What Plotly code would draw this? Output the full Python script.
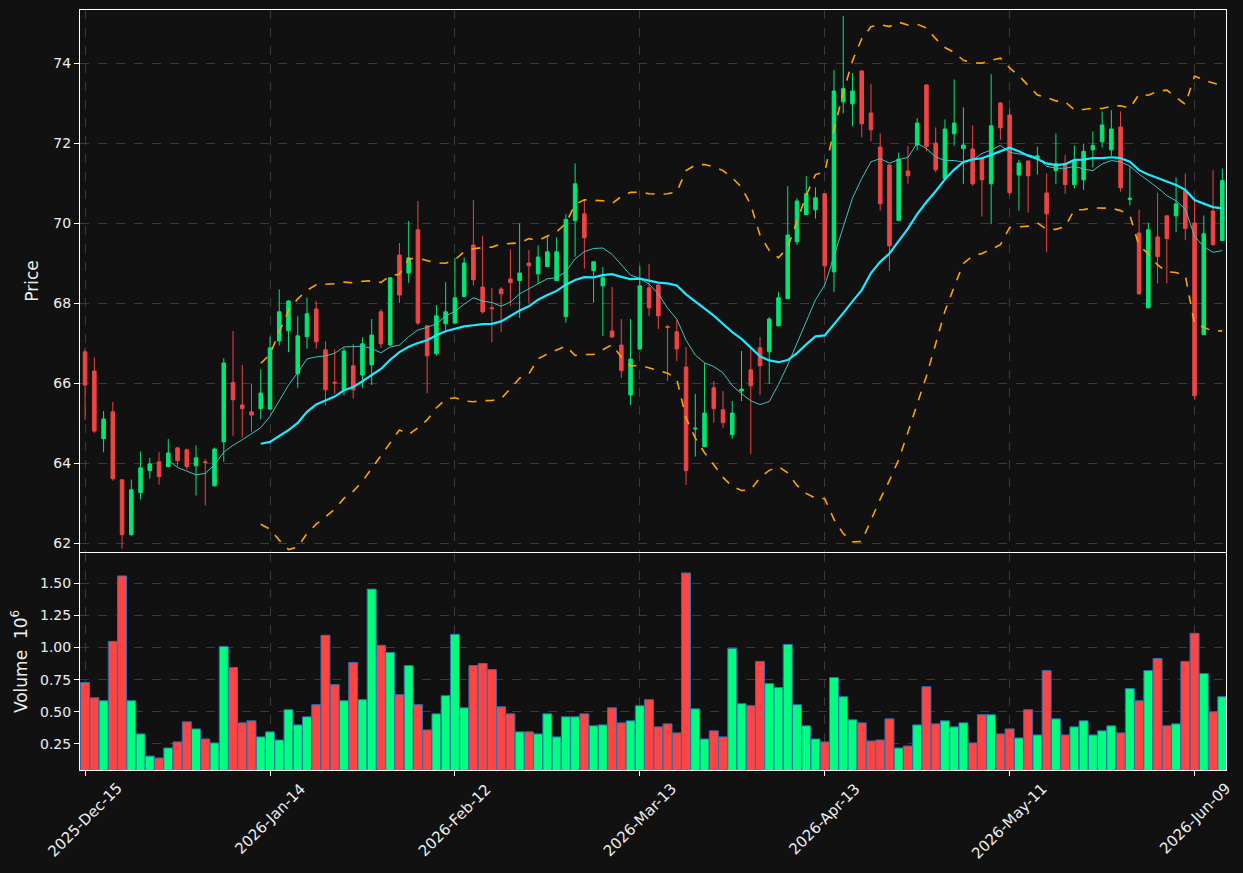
import pandas as pd
import plotly.graph_objects as go

# ---------------- data ----------------
tick_labels = ["2025-Dec-15", "2026-Jan-14", "2026-Feb-12", "2026-Mar-13",
               "2026-Apr-13", "2026-May-11", "2026-Jun-09"]
tick_index = [0, 20, 40, 60, 80, 100, 120]

opens = [66.78, 66.30, 64.61, 65.28, 63.58, 62.21, 63.26, 63.81, 64.03, 63.91,
         64.38, 64.33, 63.93, 64.03, 63.43, 64.53, 66.01, 65.45, 65.28, 65.36,
         65.35, 67.05, 67.31, 66.23, 67.16, 67.85, 66.83, 66.02, 65.83, 66.43,
         66.20, 66.45, 67.78, 66.95, 69.20, 68.75, 69.83, 67.43, 66.73, 67.48,
         67.50, 68.16, 69.45, 68.40, 67.88, 68.35, 68.60, 68.56, 69.00, 68.73,
         68.91, 68.56, 67.66, 70.06, 70.23, 68.81, 68.43, 67.30, 66.95, 65.70,
         66.85, 68.38, 68.45, 67.41, 67.28, 66.40, 64.85, 64.41, 65.88, 65.33,
         64.71, 65.80, 66.33, 66.88, 66.78, 67.43, 68.11, 69.53, 70.21, 70.33,
         70.73, 68.78, 73.03, 72.98, 73.80, 72.75, 71.90, 71.45, 70.06, 71.30,
         71.95, 73.45, 72.00, 71.11, 72.23, 71.86, 71.85, 71.63, 70.98, 73.00,
         72.70, 71.20, 71.55, 71.61, 70.75, 71.31, 71.48, 70.96, 71.08, 71.83,
         72.03, 71.83, 72.40, 70.59, 69.75, 67.88, 69.65, 70.18, 70.18, 70.80,
         70.00, 67.21, 70.30, 69.56]
highs = [66.87, 66.64, 65.30, 65.53, 63.60, 63.59, 64.29, 64.13, 64.27, 64.60,
         64.40, 64.36, 64.44, 64.10, 64.39, 66.62, 67.30, 66.45, 65.98, 66.34,
         67.16, 68.34, 68.07, 67.67, 68.14, 68.05, 67.04, 66.84, 66.88, 66.98,
         67.14, 67.60, 67.85, 68.65, 69.50, 70.05, 70.55, 67.45, 67.95, 68.52,
         69.13, 69.14, 70.57, 69.68, 68.38, 68.40, 69.34, 69.99, 69.32, 69.44,
         69.67, 69.64, 70.22, 71.49, 70.57, 69.04, 68.90, 68.40, 67.60, 67.60,
         68.93, 68.98, 68.47, 67.45, 67.58, 66.90, 65.73, 66.50, 66.05, 65.80,
         65.55, 66.80, 66.85, 67.15, 67.65, 68.28, 70.92, 70.62, 71.17, 70.89,
         70.75, 73.82, 75.18, 73.75, 73.82, 73.48, 72.24, 71.47, 71.76, 71.92,
         72.62, 73.47, 72.39, 72.59, 73.59, 72.89, 72.44, 71.64, 73.72, 73.02,
         72.86, 71.58, 71.56, 71.91, 71.24, 72.24, 71.71, 71.94, 71.99, 72.29,
         72.79, 72.82, 72.79, 71.43, 70.33, 70.01, 70.76, 70.19, 71.14, 71.24,
         70.56, 70.19, 71.32, 71.36]
lows = [65.07, 64.75, 64.27, 63.56, 61.86, 62.18, 63.09, 63.61, 63.46, 63.90,
        63.91, 63.84, 63.19, 62.94, 63.42, 64.03, 64.68, 64.64, 64.78, 65.09,
        65.33, 66.94, 66.77, 65.88, 66.86, 66.86, 65.44, 65.73, 65.69, 65.61,
        65.88, 65.95, 66.88, 66.93, 68.00, 68.51, 67.45, 65.74, 66.68, 67.33,
        67.48, 68.15, 68.43, 67.73, 67.02, 67.27, 67.93, 67.63, 67.98, 68.49,
        68.90, 68.55, 67.51, 69.16, 68.86, 68.01, 67.18, 67.13, 66.13, 65.45,
        66.84, 67.68, 67.35, 66.05, 66.55, 63.45, 64.16, 64.40, 65.01, 64.88,
        64.61, 65.55, 64.22, 65.70, 65.98, 67.42, 68.10, 69.45, 70.20, 70.11,
        68.58, 68.27, 72.74, 72.42, 72.14, 72.04, 70.31, 68.80, 70.05, 70.98,
        71.82, 71.79, 71.26, 71.10, 71.93, 70.98, 70.93, 70.16, 69.97, 72.08,
        70.69, 70.31, 70.26, 71.21, 69.28, 70.97, 70.73, 70.86, 70.83, 71.39,
        71.89, 71.68, 70.78, 70.44, 68.21, 67.87, 68.49, 68.49, 69.77, 69.57,
        65.58, 67.20, 69.43, 69.55]
closes = [65.95, 64.80, 65.10, 63.61, 62.21, 63.33, 63.88, 63.98, 63.66, 64.25,
          64.06, 63.91, 64.13, 64.01, 64.35, 66.50, 65.58, 65.36, 65.20, 65.75,
          66.88, 67.78, 68.05, 67.18, 67.73, 67.03, 65.83, 66.00, 66.80, 65.83,
          66.98, 67.20, 66.98, 68.63, 68.20, 69.13, 67.50, 66.68, 67.68, 67.78,
          68.13, 69.00, 68.58, 67.78, 67.86, 68.23, 68.51, 68.75, 68.93, 69.15,
          69.28, 69.28, 70.09, 70.98, 69.63, 69.03, 68.63, 67.15, 66.31, 66.60,
          68.43, 67.88, 67.68, 67.39, 66.85, 63.81, 64.87, 65.25, 65.36, 65.01,
          65.25, 65.85, 65.93, 66.43, 67.60, 68.13, 69.70, 70.55, 70.73, 70.63,
          68.93, 73.30, 73.36, 73.30, 72.48, 72.33, 70.48, 69.43, 71.60, 71.18,
          72.50, 71.92, 71.33, 72.35, 72.50, 71.95, 70.98, 71.08, 72.43, 72.38,
          70.76, 71.50, 71.18, 71.68, 70.23, 71.48, 70.96, 71.55, 71.79, 71.94,
          72.45, 72.35, 70.88, 70.62, 68.23, 69.83, 69.16, 69.61, 70.48, 69.86,
          65.68, 69.73, 69.46, 71.06]
volumes_m = [0.727, 0.609, 0.586, 1.047, 1.555, 0.586, 0.328, 0.156, 0.141, 0.219,
             0.266, 0.422, 0.367, 0.289, 0.258, 1.008, 0.844, 0.414, 0.430, 0.305,
             0.344, 0.281, 0.516, 0.398, 0.461, 0.555, 1.094, 0.711, 0.586, 0.883,
             0.594, 1.453, 1.016, 0.961, 0.633, 0.859, 0.555, 0.359, 0.484, 0.625,
             1.102, 0.531, 0.859, 0.875, 0.828, 0.539, 0.484, 0.344, 0.344, 0.328,
             0.484, 0.305, 0.461, 0.461, 0.484, 0.391, 0.398, 0.531, 0.414, 0.430,
             0.547, 0.594, 0.383, 0.406, 0.336, 1.578, 0.523, 0.289, 0.352, 0.305,
             0.992, 0.563, 0.547, 0.891, 0.719, 0.688, 1.023, 0.555, 0.391, 0.289,
             0.266, 0.766, 0.617, 0.438, 0.414, 0.273, 0.281, 0.445, 0.219, 0.234,
             0.398, 0.695, 0.406, 0.430, 0.383, 0.414, 0.258, 0.477, 0.477, 0.328,
             0.367, 0.297, 0.516, 0.320, 0.820, 0.445, 0.320, 0.383, 0.430, 0.320,
             0.352, 0.391, 0.336, 0.680, 0.586, 0.820, 0.914, 0.391, 0.406, 0.891,
             1.109, 0.797, 0.500, 0.617]

# ---------------- derived ----------------
idx = list(range(len(closes)))
cs = pd.Series(closes)
ma10 = cs.rolling(10).mean()
ma20 = cs.rolling(20).mean()
sd20 = cs.rolling(20).std(ddof=0)
upper = ma20 + 2 * sd20
lower = ma20 - 2 * sd20

UP_C = "#00e676"
DN_C = "#f04444"
VUP_C = "#00ff7f"
VDN_C = "#ff4444"
vol_colors = [VUP_C if c >= o else VDN_C for o, c in zip(opens, closes)]

BG = "#111111"
GRID = "#3a3a3a"
TXT = "#eeeeee"
FONT = "DejaVu Sans"

fig = go.Figure()

fig.add_trace(go.Candlestick(
    x=idx, open=opens, high=highs, low=lows, close=closes,
    increasing=dict(line=dict(color=UP_C, width=1), fillcolor=UP_C),
    decreasing=dict(line=dict(color=DN_C, width=1), fillcolor=DN_C),
    whiskerwidth=0, xaxis="x", yaxis="y", showlegend=False, hoverinfo="skip"))

fig.add_trace(go.Scatter(x=idx, y=upper, mode="lines",
                         line=dict(color="#ffa500", width=1.6, dash="dash"),
                         xaxis="x", yaxis="y", showlegend=False))
fig.add_trace(go.Scatter(x=idx, y=lower, mode="lines",
                         line=dict(color="#ffa500", width=1.6, dash="dash"),
                         xaxis="x", yaxis="y", showlegend=False))
fig.add_trace(go.Scatter(x=idx, y=ma10, mode="lines",
                         line=dict(color="#3fc4bf", width=1),
                         xaxis="x", yaxis="y", showlegend=False))
fig.add_trace(go.Scatter(x=idx, y=ma20, mode="lines",
                         line=dict(color="#1de9ff", width=2.2),
                         xaxis="x", yaxis="y", showlegend=False))

fig.add_trace(go.Bar(x=idx, y=volumes_m, marker=dict(color=vol_colors,
                     line=dict(color="#2a72b0", width=1)),
                     xaxis="x2", yaxis="y2", showlegend=False))

xr = [-0.55, 123.4]
axis_common = dict(showline=True, linecolor="#ffffff", linewidth=1, mirror=True,
                   zeroline=False)

# rotated date labels centred under their ticks (matplotlib-like placement)
annotations = [
    dict(x=ti, y=0, xref="x2", yref="paper", text=lab, showarrow=False,
         textangle=-45, xanchor="center", yanchor="top", yshift=-7,
         font=dict(family=FONT, size=15, color=TXT))
    for ti, lab in zip(tick_index, tick_labels)
]

fig.update_layout(
    width=1243, height=873,
    paper_bgcolor=BG, plot_bgcolor=BG,
    margin=dict(l=80, r=17, t=10, b=103),
    font=dict(family=FONT, size=14, color=TXT),
    boxgap=0.45, bargap=0.03,
    annotations=annotations,
    xaxis=dict(domain=[0, 1], anchor="y", range=xr, tickvals=tick_index,
               showticklabels=False, ticks="", showgrid=True, gridcolor=GRID,
               griddash="dash", rangeslider=dict(visible=False), **axis_common),
    yaxis=dict(domain=[0.2868, 1], anchor="x", range=[61.775, 75.325],
               tickvals=[62, 64, 66, 68, 70, 72, 74], ticks="outside",
               ticklen=5, tickcolor="#ffffff", showgrid=True, gridcolor=GRID,
               griddash="dash", title=dict(text="Price", standoff=10),
               **axis_common),
    xaxis2=dict(domain=[0, 1], anchor="y2", matches="x", range=xr,
                tickvals=tick_index, showticklabels=False,
                ticks="outside", ticklen=5, tickcolor="#ffffff",
                showgrid=True, gridcolor=GRID, griddash="dash", **axis_common),
    yaxis2=dict(domain=[0, 0.2855], anchor="x2", range=[0.048, 1.733],
                tickvals=[0.25, 0.5, 0.75, 1.0, 1.25, 1.5], tickformat=".2f",
                ticks="outside", ticklen=5, tickcolor="#ffffff", showgrid=True,
                gridcolor=GRID, griddash="dash",
                title=dict(text="Volume  10<sup>6</sup>", standoff=8),
                **axis_common),
)

fig.write_html("out.html")
